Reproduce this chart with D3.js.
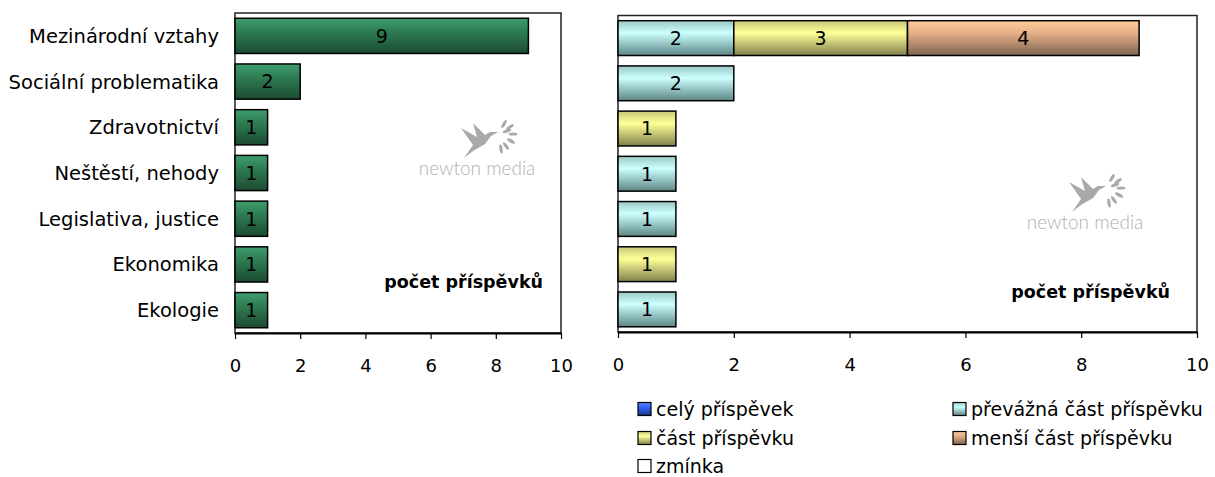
<!DOCTYPE html>
<html>
<head>
<meta charset="utf-8">
<script src="https://cdn.jsdelivr.net/npm/d3@7"></script>
<style>
  body { margin: 0; background: #fff; }
  svg { display: block; font-family: "DejaVu Sans", sans-serif; }
</style>
</head>
<body>
<svg id="chart" width="1215" height="477"></svg>
<script>
// categories, top to bottom
const categories = ['Mezinárodní vztahy', 'Sociální problematika', 'Zdravotnictví',
  'Neštěstí, nehody', 'Legislativa, justice', 'Ekonomika', 'Ekologie'];
const totals = [9, 2, 1, 1, 1, 1, 1];

const seriesNames = ['celý příspěvek', 'převážná část příspěvku', 'část příspěvku',
  'menší část příspěvku', 'zmínka'];
const celyValues     = [0, 0, 0, 0, 0, 0, 0];
const prevaznaValues = [2, 2, 0, 1, 1, 0, 1];
const castValues     = [3, 0, 1, 0, 0, 1, 0];
const mensiValues    = [4, 0, 0, 0, 0, 0, 0];
const zminkaValues   = [0, 0, 0, 0, 0, 0, 0];
const xTicks = [0, 2, 4, 6, 8, 10];
const axisTitle = 'počet příspěvků';

// colours: [top, mid, bottom] of the bar gradient
const palette = {
  total: ['#3f9e6e', '#2f7f55', '#1b4a31'],
  'celý příspěvek': ['#5a86ff', '#3366ff', '#1a3380'],
  'převážná část příspěvku': ['#9cc8c8', '#ccffff', '#5c8585'],
  'část příspěvku': ['#c8c87a', '#ffff99', '#80804c'],
  'menší část příspěvku': ['#ffcc99', '#e6b088', '#7e6450'],
  'zmínka': ['#ffffff', '#ffffff', '#ffffff']
};

const svg = d3.select('#chart');
const defs = svg.append('defs');

function addGrad(id, cols) {
  let g = defs.append('linearGradient').attr('id', id)
    .attr('x1', 0).attr('y1', 0).attr('x2', 0).attr('y2', 1);
  g.append('stop').attr('offset', '0%').attr('stop-color', cols[0]);
  g.append('stop').attr('offset', '35%').attr('stop-color', cols[1]);
  g.append('stop').attr('offset', '100%').attr('stop-color', cols[2]);
}
addGrad('g-total', palette.total);
seriesNames.forEach((s, i) => addGrad('g-s' + i, palette[s]));

function drawFrame(x, y, titleX, titleY) {
  let [x0, x1] = x.range();
  let [y0, y1] = y.range();
  let g = svg.append('g');
  g.append('rect')
    .attr('x', x0).attr('y', y0)
    .attr('width', x1 - x0).attr('height', y1 - y0)
    .attr('fill', 'none').attr('stroke', '#222').attr('stroke-width', 1.5);

  let ax = g.append('g')
    .attr('transform', `translate(0,${y1})`)
    .call(d3.axisBottom(x).tickValues(xTicks).tickSize(6).tickPadding(20).tickSizeOuter(0));
  ax.select('.domain').attr('stroke', '#000').attr('stroke-width', 2);
  ax.selectAll('.tick line').attr('stroke', '#000').attr('stroke-width', 1.2);
  ax.selectAll('.tick text')
    .attr('fill', '#000').attr('font-size', 18)
    .attr('font-family', '"DejaVu Sans", sans-serif');

  g.append('text')
    .attr('x', titleX).attr('y', titleY)
    .attr('dy', '0.36em')
    .attr('text-anchor', 'end')
    .attr('font-weight', 'bold').attr('font-size', 17.5)
    .text(axisTitle);
}

function drawWatermark(cx, cy) {
  let g = svg.append('g').attr('transform', `translate(${cx},${cy})`)
    .attr('fill', '#a9a9a9');
  // hummingbird above the right half of the text, splash at the beak
  let b = g.append('g').attr('transform', 'translate(-17,-46)');
  b.append('path')
    .attr('d', 'M4,36 L13,23 L1,6 L17,15 L13,1 L25,13 L30,10 L38,10 L31,14 L25,22 L13,29 Z');
  [[44, 2, -60], [50, 5, -35], [53, 12, 0], [51, 19, 30], [46, 24, 55], [41, 27, 80], [47, 9, -20]]
    .forEach(([px, py, a]) => {
      b.append('ellipse').attr('cx', px).attr('cy', py)
        .attr('rx', 1.6).attr('ry', 4.5)
        .attr('transform', `rotate(${a + 90},${px},${py})`);
    });
  g.append('text').attr('x', 0).attr('y', 0)
    .attr('dy', '0.36em')
    .attr('text-anchor', 'middle')
    .attr('font-size', 19).attr('font-weight', 300)
    .attr('fill', '#b0b0b0')
    .attr('font-family', 'Lato, sans-serif')
    .text('newton media');
}

// ---------- left chart ----------
const xL = d3.scaleLinear().domain([0, 10]).range([235, 561]);
const yL = d3.scaleBand().domain(categories).range([13, 333])
  .paddingInner(0.23).paddingOuter(0.115);

drawWatermark(477, 168);
drawFrame(xL, yL, 543, 282);

svg.append('g').selectAll('rect')
  .data(categories)
  .join('rect')
  .attr('x', xL(0))
  .attr('y', d => yL(d))
  .attr('width', (d, i) => xL(totals[i]) - xL(0))
  .attr('height', yL.bandwidth())
  .attr('fill', 'url(#g-total)')
  .attr('stroke', '#000').attr('stroke-width', 1.5);

svg.append('g').selectAll('text')
  .data(categories)
  .join('text')
  .attr('x', (d, i) => (xL(0) + xL(totals[i])) / 2)
  .attr('y', d => yL(d) + yL.bandwidth() / 2)
  .attr('dy', '0.36em')
  .attr('text-anchor', 'middle')
  .attr('font-size', 19)
  .text((d, i) => totals[i]);

svg.append('g').selectAll('text')
  .data(categories)
  .join('text')
  .attr('x', 219)
  .attr('y', d => yL(d) + yL.bandwidth() / 2)
  .attr('dy', '0.36em')
  .attr('text-anchor', 'end')
  .attr('font-size', 19.5)
  .text(d => d);

// ---------- right chart ----------
const xR = d3.scaleLinear().domain([0, 10]).range([618, 1197]);
const yR = d3.scaleBand().domain(categories).range([15.5, 332])
  .paddingInner(0.23).paddingOuter(0.115);

drawWatermark(1085, 222);
drawFrame(xR, yR, 1170, 292);

const table = categories.map((c, i) => ({
  cat: c,
  'celý příspěvek': celyValues[i],
  'převážná část příspěvku': prevaznaValues[i],
  'část příspěvku': castValues[i],
  'menší část příspěvku': mensiValues[i],
  'zmínka': zminkaValues[i]
}));
const stacked = d3.stack().keys(seriesNames)(table);

stacked.forEach((layer, si) => {
  let items = layer.filter(d => d[1] > d[0]);
  let g = svg.append('g');
  g.selectAll('rect')
    .data(items)
    .join('rect')
    .attr('x', d => xR(d[0]))
    .attr('y', d => yR(d.data.cat))
    .attr('width', d => xR(d[1]) - xR(d[0]))
    .attr('height', yR.bandwidth())
    .attr('fill', `url(#g-s${si})`)
    .attr('stroke', '#000').attr('stroke-width', 1.5);
  g.selectAll('text')
    .data(items)
    .join('text')
    .attr('x', d => (xR(d[0]) + xR(d[1])) / 2)
    .attr('y', d => yR(d.data.cat) + yR.bandwidth() / 2)
    .attr('dy', '0.36em')
    .attr('text-anchor', 'middle')
    .attr('font-size', 19)
    .text(d => d[1] - d[0]);
});

// ---------- legend ----------
const legendCols = [638, 953];
const legendRows = [409, 438, 466];
const legend = svg.append('g').selectAll('g')
  .data(seriesNames)
  .join('g')
  .attr('transform', (d, i) => `translate(${legendCols[i % 2]},${legendRows[Math.floor(i / 2)]})`);
legend.append('rect')
  .attr('x', 0).attr('y', -6.5)
  .attr('width', 13).attr('height', 13)
  .attr('fill', (d, i) => `url(#g-s${i})`)
  .attr('stroke', '#000').attr('stroke-width', 1.2);
legend.append('text')
  .attr('x', 18).attr('dy', '0.36em')
  .attr('font-size', 19)
  .text(d => d);
</script>
</body>
</html>
